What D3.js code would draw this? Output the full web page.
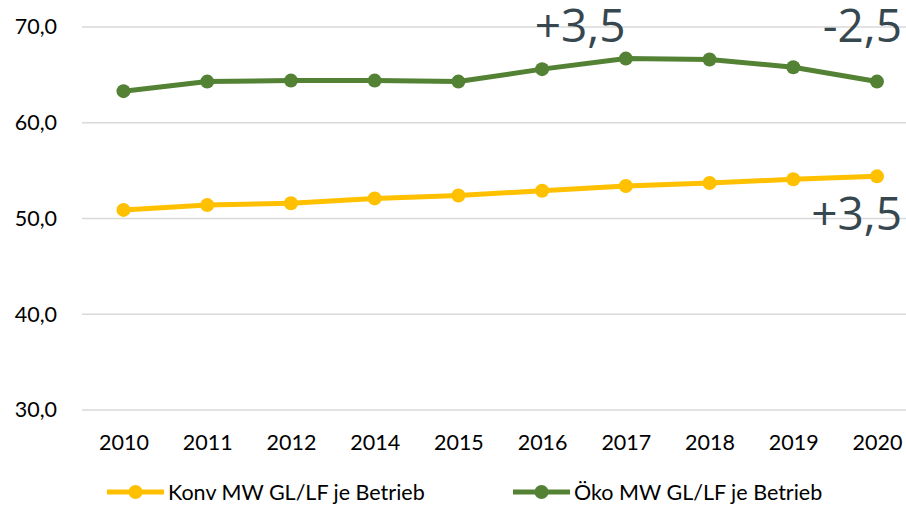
<!DOCTYPE html>
<html>
<head>
<meta charset="utf-8">
<script src="https://cdn.jsdelivr.net/npm/d3@7"></script>
<style>
  body { margin: 0; background: #fff; }
  svg { display: block; }
</style>
</head>
<body>
<svg width="906" height="508"></svg>
<script>
// data
let years = ["2010", "2011", "2012", "2014", "2015", "2016", "2017", "2018", "2019", "2020"];
let konv = [50.9, 51.4, 51.6, 52.1, 52.4, 52.9, 53.4, 53.7, 54.1, 54.4];
let oeko = [63.3, 64.3, 64.4, 64.4, 64.3, 65.6, 66.7, 66.6, 65.8, 64.3];
let yTicks = [30, 40, 50, 60, 70];
let seriesNames = ["Konv MW GL/LF je Betrieb", "Öko MW GL/LF je Betrieb"];
let notes = [
  {text: "+3,5", year: "2016", value: 70, anchor: "middle", dx: 38, dy: 15},
  {text: "-2,5", year: "2020", value: 70, anchor: "end", dx: 25, dy: 15},
  {text: "+3,5", year: "2020", value: 50, anchor: "end", dx: 25, dy: 11.5}
];

let svg = d3.select("svg");
let labelFont = "Lato, 'DejaVu Sans', sans-serif";
let labelSize = 21.5;

let x = d3.scalePoint().domain(years).range([123.5, 877]);
let y = d3.scaleLinear().domain([30, 70]).range([410, 27]);

// gridlines
svg.append("g")
  .selectAll("line")
  .data(yTicks)
  .enter()
  .append("line")
    .attr("x1", 82).attr("x2", 906)
    .attr("y1", d => y(d)).attr("y2", d => y(d))
    .attr("stroke", "#d9d9d9")
    .attr("stroke-width", 1.5);

// y axis labels
let yAxis = d3.axisLeft(y).tickValues(yTicks)
  .tickFormat(d => d3.format(".1f")(d).replace(".", ","))
  .tickSize(0).tickPadding(0);
let yg = svg.append("g").attr("transform", "translate(57,0)").call(yAxis);
yg.select(".domain").remove();
yg.selectAll("text")
  .attr("font-family", labelFont).attr("font-size", labelSize).attr("fill", "#000");

// x axis labels
let xAxis = d3.axisBottom(x).tickSize(0).tickPadding(0);
let xg = svg.append("g").attr("transform", "translate(0,435)").call(xAxis);
xg.select(".domain").remove();
xg.selectAll("text")
  .attr("font-family", labelFont).attr("font-size", labelSize).attr("fill", "#000");

// lines
let series = [
  {name: seriesNames[0], values: konv, color: "#ffc000"},
  {name: seriesNames[1], values: oeko, color: "#548235"}
];
let line = d3.line().x((d, i) => x(years[i])).y(d => y(d));

series.forEach(s => {
  svg.append("path")
    .datum(s.values)
    .attr("d", line)
    .attr("fill", "none")
    .attr("stroke", s.color)
    .attr("stroke-width", 5)
    .attr("stroke-linejoin", "round");
  svg.append("g")
    .selectAll("circle")
    .data(s.values)
    .enter()
    .append("circle")
      .attr("cx", (d, i) => x(years[i]))
      .attr("cy", d => y(d))
      .attr("r", 7)
      .attr("fill", s.color);
});

// annotations
svg.append("g")
  .selectAll("text")
  .data(notes)
  .enter()
  .append("text")
    .attr("x", d => x(d.year) + d.dx)
    .attr("y", d => y(d.value) + d.dy)
    .attr("text-anchor", d => d.anchor)
    .attr("font-family", "'Open Sans', sans-serif")
    .attr("font-size", 46)
    .attr("fill", "#37474f")
    .text(d => d.text);

// legend
let legendX = [107, 513];
let leg = svg.append("g")
  .selectAll("g")
  .data(series)
  .enter()
  .append("g")
    .attr("transform", (d, i) => "translate(" + legendX[i] + ",492)");
leg.append("line")
  .attr("x1", 0).attr("x2", 57)
  .attr("stroke", d => d.color).attr("stroke-width", 5);
leg.append("circle")
  .attr("cx", 28.5).attr("r", 7).attr("fill", d => d.color);
leg.append("text")
  .attr("x", 61).attr("dy", "0.35em")
  .attr("font-family", labelFont).attr("font-size", labelSize).attr("fill", "#000")
  .text(d => d.name);
</script>
</body>
</html>
